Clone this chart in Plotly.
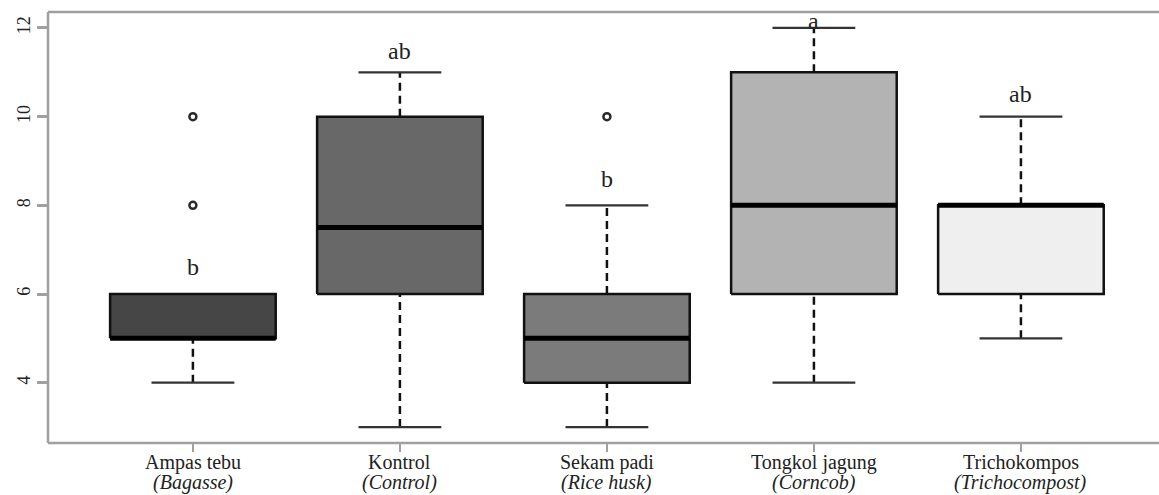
import plotly.graph_objects as go

# Treatments (Indonesian name, English name)
treatments = ["Ampas tebu", "Kontrol", "Sekam padi", "Tongkol jagung", "Trichokompos"]
treatments_en = ["(Bagasse)", "(Control)", "(Rice husk)", "(Corncob)", "(Trichocompost)"]

# Five-number summaries per treatment
whisker_low = [4, 3, 3, 4, 5]
q1 = [5, 6, 4, 6, 6]
median = [5, 7.5, 5, 8, 8]
q3 = [6, 10, 6, 11, 8]
whisker_high = [6, 11, 8, 12, 10]

# Outlying observations
outlier_group = [1, 1, 3]
outlier_value = [8, 10, 10]

# Significance letters and their vertical placement
letters = ["b", "ab", "b", "a", "ab"]
letter_y = [6.6, 11.48, 8.6, 12.16, 10.5]

fills = ["#464646", "#686868", "#7b7b7b", "#b3b3b3", "#efefef"]

y_ticks = [4, 6, 8, 10, 12]

BOX_HALF = 0.4
CAP_HALF = 0.2
SERIF = "Liberation Serif, Times New Roman, serif"
FRAME = "#a0a0a0"

fig = go.Figure()

for i in range(len(treatments)):
    x = i + 1
    # dashed whiskers
    fig.add_trace(go.Scatter(
        x=[x, x, None, x, x],
        y=[whisker_low[i], q1[i], None, q3[i], whisker_high[i]],
        mode="lines", line=dict(color="#111111", width=2.5, dash="8px,5px"),
        hoverinfo="skip"))
    # whisker caps
    fig.add_trace(go.Scatter(
        x=[x - CAP_HALF, x + CAP_HALF, None, x - CAP_HALF, x + CAP_HALF],
        y=[whisker_low[i], whisker_low[i], None, whisker_high[i], whisker_high[i]],
        mode="lines", line=dict(color="#333333", width=2.2),
        hoverinfo="skip"))
    # box
    fig.add_trace(go.Scatter(
        x=[x - BOX_HALF, x + BOX_HALF, x + BOX_HALF, x - BOX_HALF, x - BOX_HALF],
        y=[q1[i], q1[i], q3[i], q3[i], q1[i]],
        mode="lines", fill="toself", fillcolor=fills[i],
        line=dict(color="#111111", width=2.5),
        hoverinfo="skip"))
    # median
    fig.add_trace(go.Scatter(
        x=[x - BOX_HALF, x + BOX_HALF],
        y=[median[i], median[i]],
        mode="lines", line=dict(color="#000000", width=5),
        hoverinfo="skip"))

# outliers
fig.add_trace(go.Scatter(
    x=outlier_group, y=outlier_value, mode="markers",
    marker=dict(symbol="circle-open", size=7, color="#2a2a2a",
                line=dict(width=2.5, color="#2a2a2a")),
    hoverinfo="skip"))

# significance letters
for i, t in enumerate(letters):
    fig.add_annotation(x=i + 1, y=letter_y[i], text=t, showarrow=False,
                       xanchor="center", yanchor="middle",
                       font=dict(family=SERIF, size=24, color="#222222"))

# category labels (two lines)
for i in range(len(treatments)):
    fig.add_annotation(x=i + 1, y=0, xref="x", yref="paper", text=treatments[i],
                       showarrow=False, xanchor="center", yanchor="top", yshift=-6,
                       font=dict(family=SERIF, size=20, color="#222222"))
    fig.add_annotation(x=i + 1, y=0, xref="x", yref="paper",
                       text="<i>" + treatments_en[i] + "</i>",
                       showarrow=False, xanchor="center", yanchor="top", yshift=-26,
                       font=dict(family=SERIF, size=20, color="#222222"))

# plot frame: left, top and bottom edges
for x0, y0, x1, y1 in [(0, 0, 0, 1), (0, 1, 1, 1), (0, 0, 1, 0)]:
    fig.add_shape(type="line", xref="paper", yref="paper",
                  x0=x0, y0=y0, x1=x1, y1=y1,
                  line=dict(color=FRAME, width=2.5), layer="below")

fig.update_layout(
    width=1159, height=495,
    margin=dict(l=48, r=0, t=12, b=52),
    paper_bgcolor="white", plot_bgcolor="white",
    showlegend=False, hovermode=False,
    xaxis=dict(range=[0.3, 5.667], tickvals=[1, 2, 3, 4, 5], ticktext=treatments,
               showticklabels=False, ticks="outside", ticklen=8,
               tickcolor=FRAME, tickwidth=2,
               showline=False, showgrid=False, zeroline=False),
    yaxis=dict(range=[2.64, 12.36], tickvals=y_ticks,
               ticktext=[str(v) for v in y_ticks],
               tickangle=-90, ticks="outside", ticklen=10,
               tickcolor=FRAME, tickwidth=2.5,
               tickfont=dict(family=SERIF, size=18, color="#222222"),
               showline=False, showgrid=False, zeroline=False),
)

fig.write_html("out.html")
